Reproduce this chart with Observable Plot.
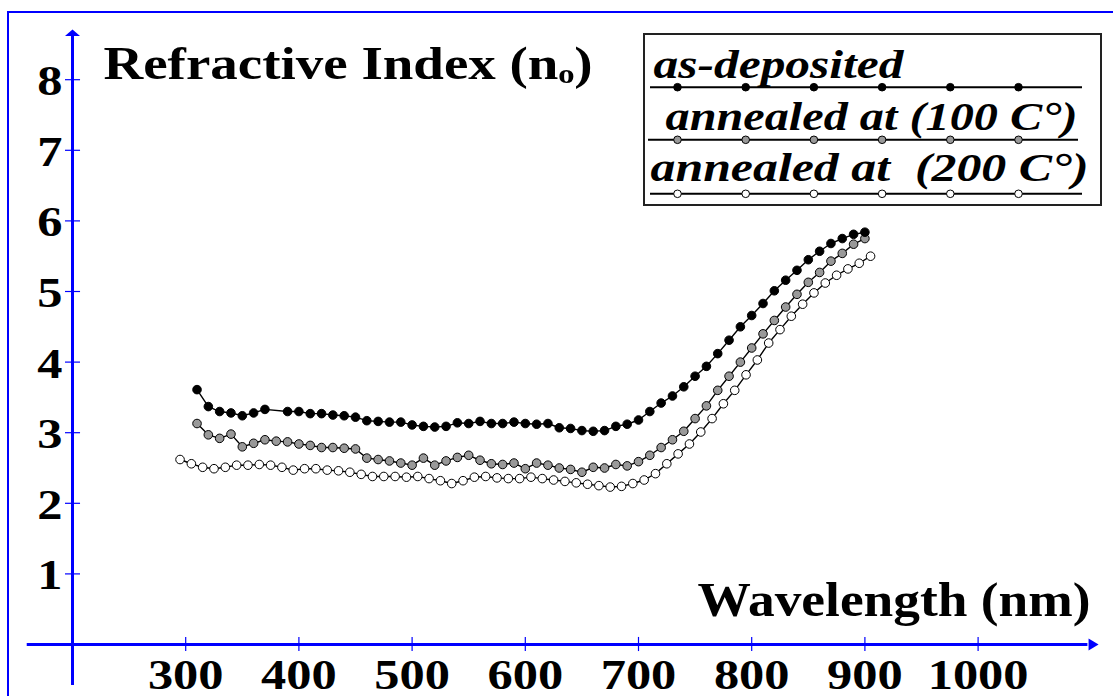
<!DOCTYPE html>
<html><head><meta charset="utf-8">
<script src="https://cdn.jsdelivr.net/npm/d3@7"></script>
<script src="https://cdn.jsdelivr.net/npm/@observablehq/plot@0.6"></script>
<style>
html,body{margin:0;padding:0;background:#fff;overflow:hidden;}
#wrap{position:relative;width:1113px;height:696px;overflow:hidden;background:#fff;}
#chart{position:absolute;left:0;top:0;}
#frame{position:absolute;left:7px;top:11px;width:1300px;height:900px;border-left:2px solid #0000ff;border-top:2px solid #0000ff;pointer-events:none;}
#legend{position:absolute;left:643px;top:33px;width:459px;height:173px;border:2px solid #222;box-sizing:border-box;background:#fff;}
#legend svg{display:block;}
</style></head><body>
<div id="wrap"><div id="chart"></div><div id="frame"></div><div id="legend"></div></div>
<script>
// ---- data ----
const wlAsDeposited = [310,320,330,340,350,360,370,390,400,410,420,430,440,450,460,470,480,490,500,510,520,530,540,550,560,570,580,590,600,610,620,630,640,650,660,670,680,690,700,710,720,730,740,750,760,770,780,790,800,810,820,830,840,850,860,870,880,890,900];
const nAsDeposited = [3.61,3.37,3.30,3.28,3.24,3.28,3.33,3.30,3.30,3.27,3.27,3.25,3.24,3.22,3.17,3.16,3.15,3.15,3.11,3.09,3.08,3.09,3.14,3.13,3.16,3.13,3.13,3.15,3.13,3.12,3.13,3.07,3.06,3.03,3.02,3.03,3.09,3.12,3.18,3.30,3.42,3.52,3.65,3.80,3.94,4.12,4.31,4.50,4.66,4.83,5.01,5.16,5.30,5.45,5.57,5.68,5.75,5.81,5.84];

const wlAnnealed100 = [310,320,330,340,350,360,370,380,390,400,410,420,430,440,450,460,470,480,490,500,510,520,530,540,550,560,570,580,590,600,610,620,630,640,650,660,670,680,690,700,710,720,730,740,750,760,770,780,790,800,810,820,830,840,850,860,870,880,890,900];
const nAnnealed100 = [3.13,2.97,2.92,2.98,2.80,2.85,2.90,2.88,2.87,2.84,2.82,2.79,2.79,2.78,2.77,2.64,2.62,2.60,2.57,2.54,2.64,2.54,2.60,2.65,2.68,2.61,2.56,2.55,2.57,2.49,2.57,2.54,2.50,2.48,2.44,2.51,2.50,2.55,2.53,2.59,2.68,2.79,2.90,3.02,3.20,3.38,3.60,3.80,4.00,4.20,4.40,4.59,4.78,4.96,5.13,5.27,5.43,5.54,5.67,5.75];

const wlAnnealed200 = [295,305,315,325,335,345,355,365,375,385,395,405,415,425,435,445,455,465,475,485,495,505,515,525,535,545,555,565,575,585,595,605,615,625,635,645,655,665,675,685,695,705,715,725,735,745,755,765,775,785,795,805,815,825,835,845,855,865,875,885,895,905];
const nAnnealed200 = [2.62,2.56,2.51,2.49,2.51,2.54,2.54,2.55,2.54,2.51,2.47,2.49,2.49,2.47,2.46,2.44,2.41,2.38,2.38,2.38,2.37,2.38,2.35,2.32,2.28,2.32,2.37,2.38,2.36,2.35,2.35,2.37,2.35,2.33,2.31,2.29,2.27,2.25,2.23,2.24,2.28,2.33,2.42,2.56,2.70,2.84,3.01,3.20,3.41,3.60,3.82,4.03,4.27,4.46,4.65,4.82,4.98,5.12,5.23,5.32,5.40,5.50];

const seriesNames = ["as-deposited", "annealed at (100 C°)", "annealed at  (200 C°)"];
const seriesFills = ["#000000", "#999999", "#ffffff"];

const xTicks = [300,400,500,600,700,800,900,1000];
const yTicks = [1,2,3,4,5,6,7,8];
const titleText = "Refractive Index (nₒ)";
const xTitleText = "Wavelength (nm)";

// ---- build ----
const blue = "#0000ff";
const font = "'Liberation Serif','Times New Roman',Times,serif";
const toRows = (wl, n) => wl.map((x, i) => ({x, y: n[i]}));
const series = [
  toRows(wlAsDeposited, nAsDeposited),
  toRows(wlAnnealed100, nAnnealed100),
  toRows(wlAnnealed200, nAnnealed200)
];

const xArrow = {draw(ctx){ctx.moveTo(5,0);ctx.lineTo(-5,-6);ctx.lineTo(-5,6);ctx.closePath();}};
const yArrow = {draw(ctx){ctx.moveTo(0,-3.5);ctx.lineTo(7.5,3);ctx.lineTo(-7.5,3);ctx.closePath();}};

const seriesMarks = [];
[2,1,0].forEach(k => {
  seriesMarks.push(Plot.line(series[k], {x:"x", y:"y", stroke:"#000", strokeWidth:1.4}));
  seriesMarks.push(Plot.dot(series[k], {x:"x", y:"y", r:4.3, fill:seriesFills[k], stroke:"#000", strokeWidth:1}));
});

const chart = Plot.plot({
  width: 1113, height: 696,
  marginLeft: 72, marginRight: 1113 - 72 - 1018.8, marginTop: 644 - 9 * 70.6, marginBottom: 52,
  x: {type: "linear", domain: [200, 1100], axis: null},
  y: {type: "linear", domain: [0, 9], axis: null},
  style: {background: "transparent", overflow: "visible"},
  marks: [
    Plot.ruleY([0], {x1: 160, x2: 1097, stroke: blue, strokeWidth: 3}),
    Plot.dot([0], {x: 1102, y: 0, symbol: xArrow, fill: blue, stroke: "none"}),
    Plot.ruleX([200], {y1: -0.58, y2: 8.62, stroke: blue, strokeWidth: 3}),
    Plot.dot([0], {x: 200, y: 8.66, symbol: yArrow, fill: blue, stroke: "none"}),
    Plot.ruleX(xTicks, {x: d => d, y1: -0.1, y2: 0.1, stroke: blue, strokeWidth: 1.2}),
    Plot.ruleY(yTicks, {y: d => d, x1: 193.8, x2: 207.1, stroke: blue, strokeWidth: 1.2}),
    // text group 0: x tick labels
    Plot.text(xTicks, {x: d => d, y: 0, text: d => String(d), dy: 44, textAnchor: "middle", lineAnchor: "bottom",
      fontFamily: font, fontWeight: "bold", fontSize: 42, fill: "#000"}),
    // text group 1: y tick labels
    Plot.text(yTicks, {x: 200, y: d => d, text: d => String(d), dx: -10, dy: 15.5, textAnchor: "end", lineAnchor: "bottom",
      fontFamily: font, fontWeight: "bold", fontSize: 42, fill: "#000"}),
    ...seriesMarks,
    // text group 2: y title
    Plot.text([titleText], {frameAnchor: "top-left", dx: 31, dy: 78 - (644 - 9 * 70.6), textAnchor: "start", lineAnchor: "bottom",
      fontFamily: font, fontWeight: "bold", fontSize: 46, fill: "#000"}),
    // text group 3: x title
    Plot.text([xTitleText], {frameAnchor: "bottom-right", dx: 1090 - (1113 - 22.2), dy: 615 - 644, textAnchor: "end", lineAnchor: "bottom",
      fontFamily: font, fontWeight: "bold", fontSize: 48, fill: "#000"})
  ]
});
document.getElementById("chart").appendChild(chart);

// ---- legend (page coords minus inner origin 645,35) ----
const LW = 455, LH = 169;
const legendLayout = [
  {tx: 8, ty: 42, ly: 51.7, x1: 5, x2: 437},
  {tx: 20, ty: 94, ly: 104.3, x1: 3, x2: 433},
  {tx: 5, ty: 145, ly: 158.3, x1: 5, x2: 437}
];
const legendRows = seriesNames.map((name, i) => ({name, fill: seriesFills[i], ...legendLayout[i]}));
const legendDots = [];
legendRows.forEach(r => { for (let k = 0; k < 6; k++) legendDots.push({x: 32 + 68.2 * k, y: r.ly, fill: r.fill}); });
const legend = Plot.plot({
  width: LW, height: LH, margin: 0,
  x: {domain: [0, LW], range: [0, LW], axis: null},
  y: {domain: [0, LH], range: [0, LH], axis: null},
  style: {background: "transparent"},
  marks: [
    Plot.ruleY(legendRows, {y: "ly", x1: "x1", x2: "x2", stroke: "#000", strokeWidth: 2}),
    Plot.dot(legendDots, {x: "x", y: "y", r: 3.8, fill: "fill", stroke: "#000", strokeWidth: 1}),
    Plot.text(legendRows, {x: "tx", y: "ty", text: "name", textAnchor: "start", lineAnchor: "bottom",
      fontFamily: font, fontWeight: "bold", fontStyle: "italic", fontSize: 40, fill: "#000"})
  ]
});
document.getElementById("legend").appendChild(legend);

// ---- horizontal stretch of text to match the reference widths ----
function fitGroup(g, f) {
  if (!g) return;
  g.querySelectorAll("text").forEach((t, i) => {
    const w = f(t.getComputedTextLength(), i);
    t.setAttribute("textLength", w);
    t.setAttribute("lengthAdjust", "spacingAndGlyphs");
  });
}
const textGroups = chart.querySelectorAll('g[aria-label="text"]');
fitGroup(textGroups[0], w => w * 1.2);
fitGroup(textGroups[1], w => w * 1.2);
fitGroup(textGroups[2], () => 489);
fitGroup(textGroups[3], () => 393);
const legendWidths = [250, 412, 438];
fitGroup(legend.querySelector('g[aria-label="text"]'), (w, i) => legendWidths[i]);
</script>
</body></html>
